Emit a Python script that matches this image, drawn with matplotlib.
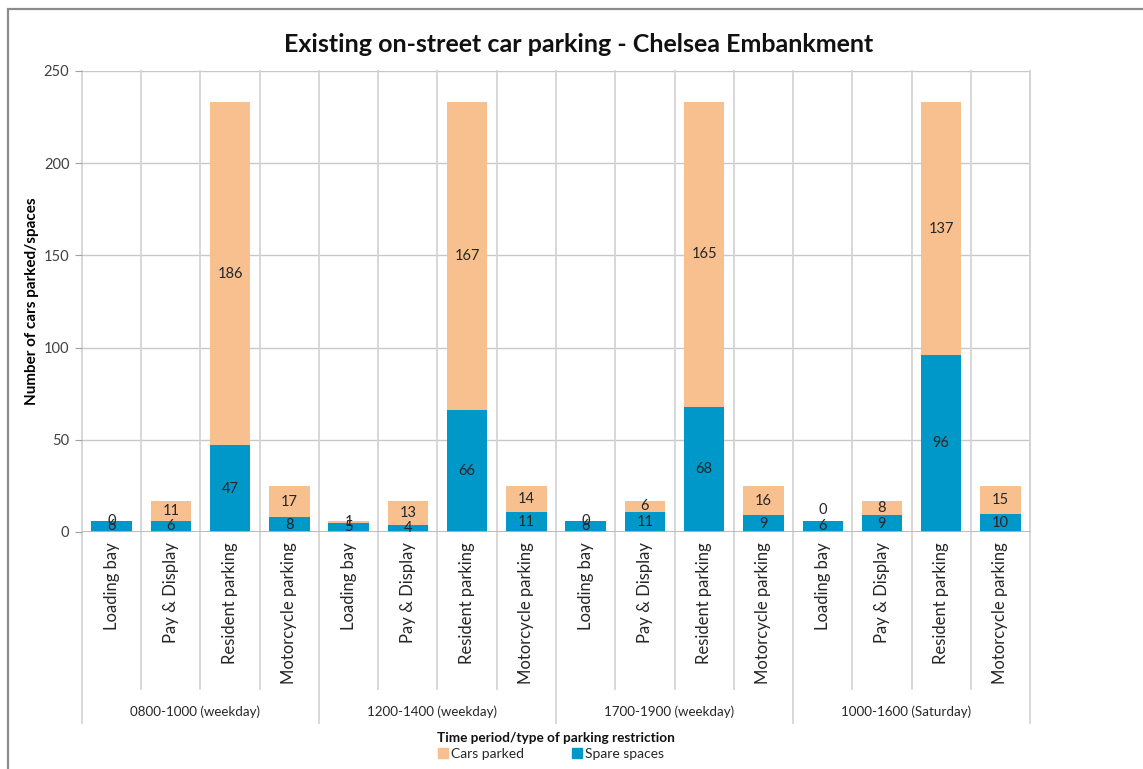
import numpy as np
import matplotlib.pyplot as plt
from matplotlib.patches import Rectangle, Patch
import matplotlib.transforms as mtransforms

plt.rcParams['font.family'] = ['Lato', 'DejaVu Sans']

# Dados de estacionamento por período e tipo de restrição
periodos = ['0800-1000 (weekday)', '1200-1400 (weekday)',
            '1700-1900 (weekday)', '1000-1600 (Saturday)']
tipos = ['Loading bay', 'Pay & Display', 'Resident parking', 'Motorcycle parking']
vagas_livres = [6, 6, 47, 8, 5, 4, 66, 11, 6, 11, 68, 9, 6, 9, 96, 10]
carros = [0, 11, 186, 17, 1, 13, 167, 14, 0, 6, 165, 16, 0, 8, 137, 15]
yticks = [0, 50, 100, 150, 200, 250]

COR_CARROS = '#F9C08F'
COR_LIVRES = '#0098C9'
COR_TEXTO = '#262626'
COR_GRADE = '#D4D4D4'

fig = plt.figure(figsize=(11.43, 7.69), dpi=100)
ax = fig.add_axes([0.0717, 0.3082, 0.8295, 0.5995])

n = len(vagas_livres)
x = np.arange(n)
larg = 0.68

# grade horizontal
for v in yticks[1:]:
    ax.axhline(v, color='#C8C8C8', lw=1.0, zorder=0)
ax.axhline(0, color='#B5B5B5', lw=1.3, zorder=3)

# linhas verticais entre categorias (continuam na área dos rótulos)
trans = mtransforms.blended_transform_factory(ax.transData, ax.transAxes)
for i in range(n + 1):
    xb = i - 0.5
    fundo = -0.414 if i % 4 == 0 else -0.341
    ax.plot([xb, xb], [1, fundo], transform=trans, color=COR_GRADE, lw=1.3,
            clip_on=False, zorder=0)

ax.bar(x, vagas_livres, larg, color=COR_LIVRES, zorder=2, label='Spare spaces')
ax.bar(x, carros, larg, bottom=vagas_livres, color=COR_CARROS, zorder=2,
       label='Cars parked')

# rótulos dos valores no centro de cada segmento
ajuste = {12: 6}
for i in range(n):
    ax.text(x[i], vagas_livres[i] / 2, str(vagas_livres[i]), ha='center',
            va='center', fontsize=10.5, color=COR_TEXTO, zorder=4)
    yc = vagas_livres[i] + carros[i] / 2 + ajuste.get(i, 0)
    ax.text(x[i], yc, str(carros[i]), ha='center', va='center', fontsize=10.5,
            color=COR_TEXTO, zorder=4)

ax.set_xlim(-0.5, n - 0.5)
ax.set_ylim(0, 250)
ax.set_yticks(yticks)
ax.tick_params(axis='y', length=5, color='#A0A0A0', labelsize=10.5,
               labelcolor='#404040', pad=4)
ax.set_xticks([])
for s in ['top', 'bottom', 'left']:
    ax.spines[s].set_visible(False)
ax.spines['right'].set_color(COR_GRADE)
ax.spines['right'].set_linewidth(1.3)

# rótulos das categorias (dois níveis)
for i in range(n):
    ax.text(x[i], -0.022, tipos[i % 4], transform=trans, rotation=90,
            ha='center', va='top', fontsize=12, color=COR_TEXTO)
for g, p in enumerate(periodos):
    ax.text(g * 4 + 1.4, -0.39, p, transform=trans, ha='center', va='center',
            fontsize=9.6, color=COR_TEXTO)

ax.set_ylabel('Number of cars parked/spaces', fontsize=11, fontweight='bold')
ax.yaxis.set_label_coords(-0.045, 0.5)
fig.text(0.506, 1 - 44 / 769, 'Existing on-street car parking - Chelsea Embankment',
         ha='center', va='center', fontsize=18, fontweight='bold', color='#111111')
fig.text(0.4865, 1 - 738 / 769, 'Time period/type of parking restriction',
         ha='center', va='center', fontsize=9.8, fontweight='bold', color='#111111')

handles = [Patch(color=COR_CARROS, label='Cars parked'),
           Patch(color=COR_LIVRES, label='Spare spaces')]
fig.legend(handles=handles, loc='center', bbox_to_anchor=(0.482, 1 - 754 / 769),
           ncol=2, frameon=False, fontsize=10, handlelength=0.7,
           handleheight=0.7, handletextpad=0.2, columnspacing=3.5,
           labelcolor=COR_TEXTO)

# moldura externa do gráfico
fig.patches.append(Rectangle((8 / 1143, -0.1), 1.2, 1 - 9.5 / 769 + 0.1,
                             transform=fig.transFigure, fill=False,
                             edgecolor='#8C8C8C', lw=1.6))

fig.savefig('out.png', dpi=100)
